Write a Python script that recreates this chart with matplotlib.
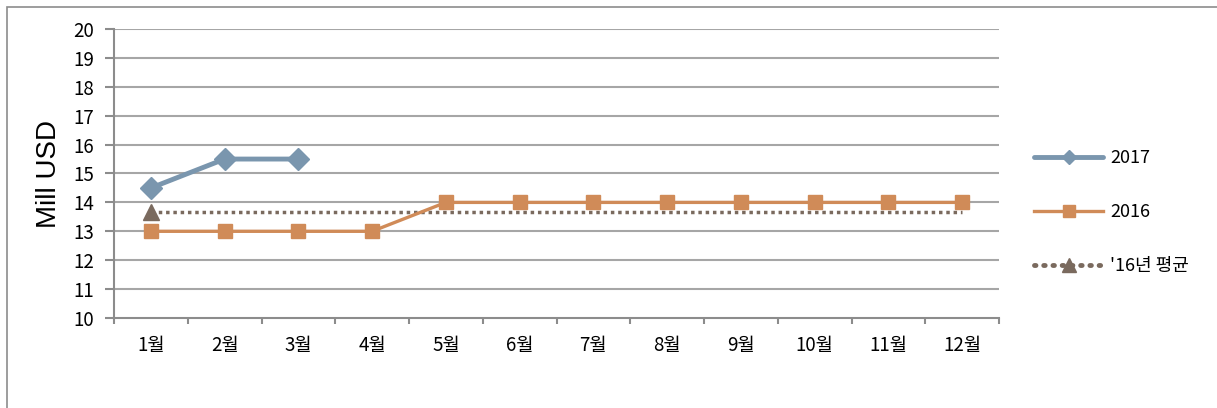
import matplotlib.pyplot as plt
from matplotlib.patches import Rectangle
import numpy as np

plt.rcParams['font.family'] = ['Noto Sans CJK KR', 'DejaVu Sans']

# Monthly values (Mill USD)
months = ['1월', '2월', '3월', '4월', '5월', '6월', '7월', '8월', '9월', '10월', '11월', '12월']
v2017 = [14.5, 15.5, 15.5]
v2016 = [13, 13, 13, 13, 14, 14, 14, 14, 14, 14, 14, 14]
avg2016 = np.mean(v2016)

x = np.arange(1, len(months) + 1)

fig = plt.figure(figsize=(12.17, 4.08), dpi=100)
ax = fig.add_axes([114 / 1217, 90 / 408, 885 / 1217, 289 / 408])

# outer chart frame
fig.patches.append(Rectangle((7 / 1217, -0.05), 1.2, (408 - 7) / 408 + 0.05,
                             transform=fig.transFigure, fill=False,
                             edgecolor='#8c8c8c', linewidth=1.2))

grid_c = '#a6a6a6'
for yv in range(11, 21):
    ax.axhline(yv, color=grid_c, linewidth=1.5, zorder=0)

c17 = '#7a96ae'
c16 = '#d08b58'
cav = '#7a6a5e'

ax.plot(x, [avg2016] * len(x), color=cav, linewidth=2.5, linestyle=(0, (1, 1.1)),
        dash_capstyle='butt', zorder=2)
ax.plot(x[:1], [avg2016], marker='^', color=cav, markersize=12, linestyle='none', zorder=3)
ax.plot(x, v2016, color=c16, linewidth=2.4, marker='s', markersize=10, zorder=3)
ax.plot(x[:len(v2017)], v2017, color=c17, linewidth=3.5, marker='D', markersize=11, zorder=4)

ax.set_xlim(0.5, 12.5)
ax.set_ylim(10, 20)
ax.set_yticks(range(10, 21))
ax.set_xticks(x)
ax.set_xticklabels(months)
ax.set_xticks(np.arange(0.5, 13, 1), minor=True)
ax.tick_params(axis='x', which='major', length=0, pad=12, labelsize=13.5)
ax.tick_params(axis='x', which='minor', length=4, width=1.5, color='#8c8c8c', direction='out')
ax.tick_params(axis='y', length=6.5, width=1.5, color='#8c8c8c', direction='out', labelsize=13.5, pad=8)
for s in ['top', 'right']:
    ax.spines[s].set_visible(False)
for s in ['left', 'bottom']:
    ax.spines[s].set_color('#8c8c8c')
    ax.spines[s].set_linewidth(1.5)
ax.set_ylabel('Mill USD', fontsize=20, family=['Liberation Sans', 'DejaVu Sans'], labelpad=8)

h17 = plt.Line2D([], [], color=c17, linewidth=3.5, marker='D', markersize=7, solid_capstyle='round')
h16 = plt.Line2D([], [], color=c16, linewidth=2.4, marker='s', markersize=9)
hav = plt.Line2D([], [], color=cav, linewidth=3.5, linestyle=(0, (0.3, 1.6)),
                 dash_capstyle='round', marker='^', markersize=10)
fig.legend([h17, h16, hav], ['2017', '2016', "'16년 평균"],
           loc='center left', bbox_to_anchor=(1018 / 1217, 1 - 212 / 408),
           frameon=False, fontsize=13, handlelength=3.8, handletextpad=0.4,
           labelspacing=2.0, numpoints=1)

fig.savefig('out.png', dpi=100)
